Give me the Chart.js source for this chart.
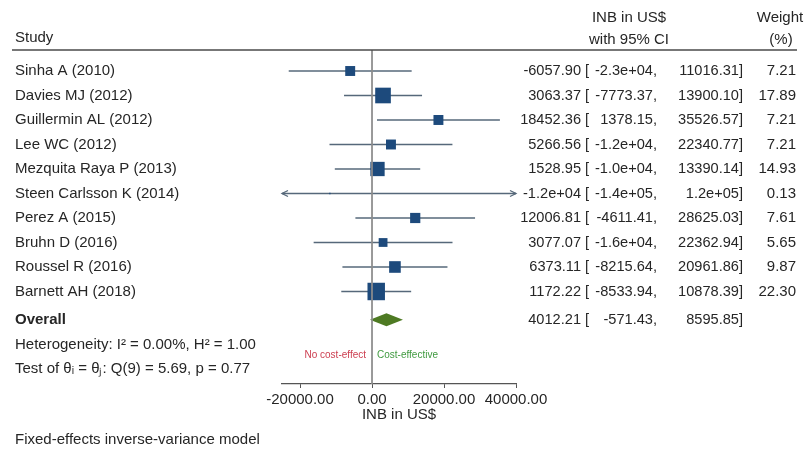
<!DOCTYPE html>
<html>
<head>
<meta charset="utf-8">
<script src="https://cdn.jsdelivr.net/npm/chart.js@4"></script>
<style>
  body { margin: 0; background: #fff; }
</style>
</head>
<body>
<canvas id="forest" width="808" height="453"></canvas>
<script>
const studies = ['Sinha A (2010)', 'Davies MJ (2012)', 'Guillermin AL (2012)', 'Lee WC (2012)',
  'Mezquita Raya P (2013)', 'Steen Carlsson K (2014)', 'Perez A (2015)', 'Bruhn D (2016)',
  'Roussel R (2016)', 'Barnett AH (2018)'];
const estimates = [-6057.90, 3063.37, 18452.36, 5266.56, 1528.95, -11700, 12006.81, 3077.07, 6373.11, 1172.22];
const lowerCI = [-23132.11, -7773.37, 1378.15, -11807.65, -10332.24, -143700, -4611.41, -16208.80, -8215.64, -8533.94];
const upperCI = [11016.31, 13900.10, 35526.57, 22340.77, 13390.14, 120300, 28625.03, 22362.94, 20961.86, 10878.39];
const weights = [7.21, 17.89, 7.21, 7.21, 14.93, 0.13, 7.61, 5.65, 9.87, 22.30];
const overallEstimate = 4012.21;
const overallLower = -571.43;
const overallUpper = 8595.85;
const xTicks = [-20000, 0, 20000, 40000];

const overallRow = 10.15;
const yTop = -0.857;
const yBottom = 12.776;
const font = '"Liberation Sans", Arial, sans-serif';
const textColor = '#262626';

function fmt(v) {
  let s = v.toFixed(2);
  if (s.length > 8) {
    s = v.toExponential(1).replace(/e([+-])(\d)$/, 'e$10$2');
  }
  return s;
}

const forestPlugin = {
  id: 'forest',
  beforeDatasetsDraw(chart) {
    const ctx = chart.ctx;
    const xs = chart.scales.x;
    const ys = chart.scales.y;
    const xmin = xs.min, xmax = xs.max;
    ctx.save();
    ctx.strokeStyle = '#56687a';
    ctx.lineWidth = 1.3;
    studies.forEach((s, i) => {
      const y = ys.getPixelForValue(i);
      const lo = Math.max(lowerCI[i], xmin);
      const hi = Math.min(upperCI[i], xmax);
      const x1 = xs.getPixelForValue(lo);
      const x2 = xs.getPixelForValue(hi);
      ctx.beginPath();
      ctx.moveTo(x1, y);
      ctx.lineTo(x2, y);
      ctx.stroke();
      if (lowerCI[i] < xmin) {
        ctx.beginPath();
        ctx.moveTo(x1 + 6, y - 3);
        ctx.lineTo(x1, y);
        ctx.lineTo(x1 + 6, y + 3);
        ctx.stroke();
      }
      if (upperCI[i] > xmax) {
        ctx.beginPath();
        ctx.moveTo(x2 - 6, y - 3);
        ctx.lineTo(x2, y);
        ctx.lineTo(x2 - 6, y + 3);
        ctx.stroke();
      }
    });
    // overall diamond
    const yo = ys.getPixelForValue(overallRow);
    ctx.fillStyle = '#4e7a23';
    ctx.beginPath();
    ctx.moveTo(xs.getPixelForValue(overallLower), yo);
    ctx.lineTo(xs.getPixelForValue(overallEstimate), yo - 6.5);
    ctx.lineTo(xs.getPixelForValue(overallUpper), yo);
    ctx.lineTo(xs.getPixelForValue(overallEstimate), yo + 6.5);
    ctx.closePath();
    ctx.fill();
    ctx.restore();
  },
  afterDraw(chart) {
    const ctx = chart.ctx;
    const ys = chart.scales.y;
    ctx.save();
    ctx.fillStyle = textColor;
    ctx.textBaseline = 'middle';
    ctx.font = '15px ' + font;

    // header
    ctx.textAlign = 'left';
    ctx.fillText('Study', 15, 38);
    ctx.textAlign = 'center';
    ctx.fillText('INB in US$', 629, 18);
    ctx.fillText('with 95% CI', 629, 40);
    ctx.fillText('Weight', 780, 18);
    ctx.fillText('(%)', 781, 40);
    ctx.strokeStyle = '#4a4a4a';
    ctx.lineWidth = 1.6;
    ctx.beginPath();
    ctx.moveTo(12, 50);
    ctx.lineTo(797, 50);
    ctx.stroke();

    const drawNumbers = (y, est, lo, hi) => {
      ctx.font = '14.6px ' + font;
      ctx.textAlign = 'right';
      ctx.fillText(fmt(est), 581, y);
      ctx.textAlign = 'left';
      ctx.fillText('[', 585, y);
      ctx.textAlign = 'right';
      ctx.fillText(fmt(lo) + ',', 657, y);
      ctx.fillText(fmt(hi) + ']', 743, y);
      ctx.font = '15px ' + font;
    };

    studies.forEach((s, i) => {
      const y = ys.getPixelForValue(i);
      ctx.textAlign = 'left';
      ctx.fillText(s, 15, y);
      drawNumbers(y, estimates[i], lowerCI[i], upperCI[i]);
      ctx.textAlign = 'right';
      ctx.fillText(weights[i].toFixed(2), 796, y);
    });

    const yo = ys.getPixelForValue(overallRow);
    drawNumbers(yo, overallEstimate, overallLower, overallUpper);
    ctx.font = 'bold 15px ' + font;
    ctx.textAlign = 'left';
    ctx.fillText('Overall', 15, yo);

    ctx.font = '15px ' + font;
    ctx.fillText('Heterogeneity: I\u00B2 = 0.00%, H\u00B2 = 1.00', 15, 345);
    ctx.fillText('Test of \u03B8\u1D62 = \u03B8\u2C7C: Q(9) = 5.69, p = 0.77', 15, 369);
    ctx.fillText('Fixed-effects inverse-variance model', 15, 440);

    ctx.font = '10px ' + font;
    ctx.textAlign = 'right';
    ctx.fillStyle = '#cc3d4f';
    ctx.fillText('No cost-effect', 366, 355);
    ctx.textAlign = 'left';
    ctx.fillStyle = '#3f9a3f';
    ctx.fillText('Cost-effective', 377, 355);
    ctx.restore();
  }
};

const forestChart = new Chart(document.querySelector('#forest'), {
  type: 'scatter',
  data: {
    datasets: [{
      type: 'line',
      data: [{x: 0, y: yTop}, {x: 0, y: yBottom}],
      borderColor: '#8c8c8c',
      borderWidth: 1,
      pointRadius: 0
    }, {
      label: 'Studies',
      data: estimates.map((e, i) => ({x: e, y: i})),
      pointStyle: 'rect',
      pointRadius: weights.map(w => 3.7 * Math.sqrt(w) / Math.SQRT2),
      backgroundColor: '#1d4a7c',
      borderWidth: 0
    }]
  },
  options: {
    responsive: false,
    animation: false,
    devicePixelRatio: 1,
    layout: {
      padding: {left: 282, right: 292, top: 50, bottom: 29}
    },
    plugins: {
      legend: { display: false },
      tooltip: { enabled: false }
    },
    scales: {
      x: {
        type: 'linear',
        min: -25000,
        max: 40000,
        afterBuildTicks: s => { s.ticks = xTicks.map(v => ({value: v})); },
        afterFit: s => { s.height = 40; },
        ticks: {
          autoSkip: false,
          maxRotation: 0,
          padding: 3,
          color: textColor,
          font: {family: font, size: 15},
          callback: v => v.toFixed(2)
        },
        grid: {
          drawOnChartArea: false,
          drawTicks: true,
          tickLength: 4,
          color: '#555'
        },
        border: { display: true, color: '#555', width: 1.2 },
        title: {
          display: true,
          text: 'INB in US$',
          color: textColor,
          font: {family: font, size: 15},
          padding: {top: 0, bottom: 0}
        }
      },
      y: {
        type: 'linear',
        display: false,
        reverse: true,
        min: yTop,
        max: yBottom
      }
    }
  },
  plugins: [forestPlugin]
});
</script>
</body>
</html>
